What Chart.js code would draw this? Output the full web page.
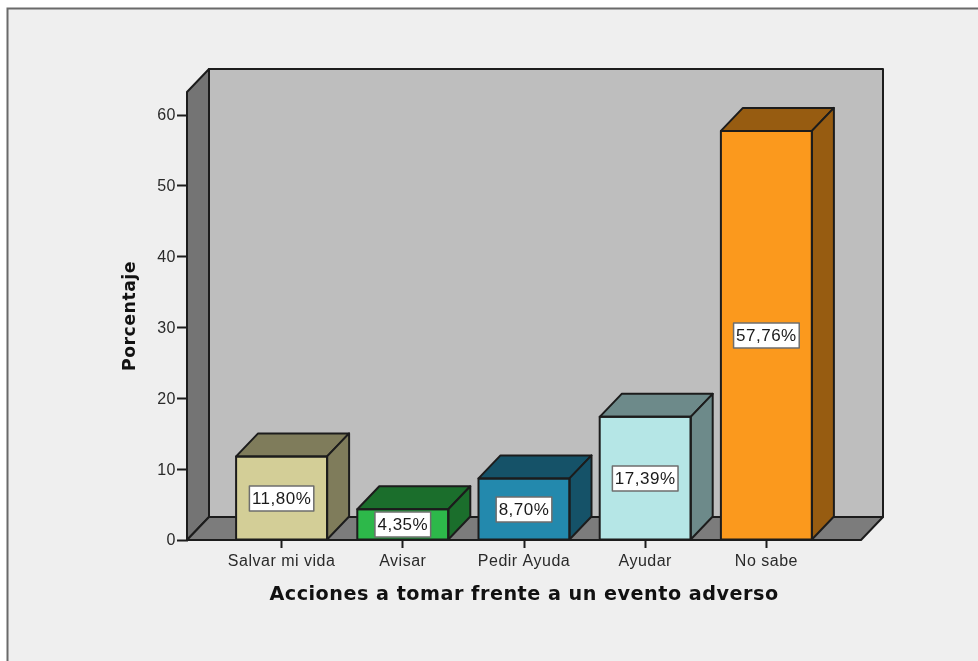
<!DOCTYPE html>
<html><head><meta charset="utf-8">
<style>html,body{margin:0;padding:0;background:#fff}#w{position:relative;width:978px;height:661px}canvas{display:block}</style>
<script src="https://cdn.jsdelivr.net/npm/chart.js@4"></script></head>
<body><div id="w"><canvas id="c" width="978" height="661"></canvas></div>
<script>
const categories = ["Salvar mi vida","Avisar","Pedir Ayuda","Ayudar","No sabe"];
const values = [11.80,4.35,8.70,17.39,57.76];
const valueLabels = ["11,80%","4,35%","8,70%","17,39%","57,76%"];
const faceColors = ["#d3ce97","#2db84a","#2389ad","#b5e6e6","#fb991d"];
const sideColors = ["#7f7c5b","#1b6e2c","#155268","#6d8a8a","#975c11"];
const yTicks = [0,10,20,30,40,50,60];
const xTitle = "Acciones a tomar frente a un evento adverso";
const yTitle = "Porcentaje";
const DX = 22, DY = 23, FLOOR_L = 34, FLOOR_R = 34;
const INK = "#1c1c1c";
const canvas = document.getElementById("c");

const scene = {
  id:"scene",
  beforeDraw(ch){
    const c=ch.ctx; c.save();
    c.fillStyle="#fff"; c.fillRect(0,0,978,661);
    c.fillStyle="#efefef"; c.fillRect(7,8,971,653);
    c.strokeStyle="#6a6a6a"; c.lineWidth=2;
    c.beginPath(); c.moveTo(7.5,661); c.lineTo(7.5,8.5); c.lineTo(978,8.5); c.stroke();
    c.restore();
    c.letterSpacing="0.5px";
  },
  beforeDatasetsDraw(ch){
    const c=ch.ctx,a=ch.chartArea;
    const l=a.left-FLOOR_L,r=a.right+FLOOR_R,t=a.top,b=a.bottom;
    c.save(); c.lineWidth=2; c.strokeStyle=INK; c.lineJoin="round";
    const poly=(p,f)=>{c.beginPath();p.forEach((q,i)=>i?c.lineTo(q[0],q[1]):c.moveTo(q[0],q[1]));c.closePath();c.fillStyle=f;c.fill();c.stroke();};
    c.fillStyle="#efefef"; c.fillRect(l+1,b+1,a.left-l+2,3);
    poly([[l+DX,t-DY],[r+DX,t-DY],[r+DX,b-DY],[l+DX,b-DY]],"#bebebe");
    poly([[l,t],[l+DX,t-DY],[l+DX,b-DY],[l,b]],"#747474");
    poly([[l,b],[l+DX,b-DY],[r+DX,b-DY],[r,b]],"#7c7c7c");
    c.restore();
  },
  afterDatasetsDraw(ch){
    const c=ch.ctx,m=ch.getDatasetMeta(0);
    c.save(); c.lineWidth=2; c.strokeStyle=INK; c.lineJoin="round";
    const poly=(p,f)=>{c.beginPath();p.forEach((q,i)=>i?c.lineTo(q[0],q[1]):c.moveTo(q[0],q[1]));c.closePath();c.fillStyle=f;c.fill();c.stroke();};
    m.data.forEach((el,i)=>{
      const w=el.width/2,L=el.x-w,R=el.x+w,T=el.y,B=el.base;
      poly([[L,T],[L+DX,T-DY],[R+DX,T-DY],[R,T]],sideColors[i]);
      poly([[R,T],[R+DX,T-DY],[R+DX,B-DY],[R,B]],sideColors[i]);
      c.strokeRect(L,T,R-L,B-T);
      c.font='17px "Liberation Sans"';
      c.textAlign="center"; c.textBaseline="middle";
      const tw=c.measureText(valueLabels[i]).width+5,h=25,cy=Math.round((T+B)/2)+0.5,cx=el.x;
      c.fillStyle="#fff"; c.fillRect(cx-tw/2,cy-h/2,tw,h);
      c.save(); c.strokeStyle="#6e6e6e"; c.lineWidth=1.5; c.strokeRect(cx-tw/2,cy-h/2,tw,h); c.restore();
      c.fillStyle="#1a1a1a"; c.fillText(valueLabels[i],cx,cy+0.5);
    });
    const a=ch.chartArea;
    c.beginPath(); c.moveTo(a.left-FLOOR_L,a.bottom); c.lineTo(a.right+FLOOR_R,a.bottom); c.stroke();
    c.restore();
  }
};

new Chart(canvas,{
  type:"bar",
  data:{labels:categories,datasets:[{data:values,backgroundColor:faceColors,borderWidth:0,barThickness:91}]},
  plugins:[scene],
  options:{
    responsive:false,animation:false,
    layout:{padding:{left:0,right:151,top:92,bottom:0}},
    plugins:{legend:{display:false},tooltip:{enabled:false}},
    scales:{
      x:{type:"category",offset:true,
        afterFit(s){s.height=121;},
        grid:{display:true,drawOnChartArea:false,tickLength:8,tickWidth:2,tickColor:INK,offset:false,drawTicks:true},
        border:{display:false},
        ticks:{color:"#2a2a2a",font:{family:'"Liberation Sans"',size:16},padding:4,maxRotation:0,autoSkip:false},
        title:{display:true,text:xTitle,color:"#111",font:{family:'"DejaVu Sans"',size:19.2,weight:"bold"},padding:{top:0,bottom:54}}},
      y:{min:0,max:63.25,
        afterFit(s){s.width=221;},
        afterBuildTicks(s){s.ticks=yTicks.map(v=>({value:v}));},
        grid:{drawOnChartArea:false,tickLength:44,tickWidth:2,tickColor:INK},
        border:{display:false},
        ticks:{color:"#2a2a2a",font:{family:'"Liberation Sans"',size:16},padding:1,labelOffset:1},
        title:{display:true,text:yTitle,color:"#111",font:{family:'"DejaVu Sans"',size:17.3,weight:"bold"},padding:{top:120,bottom:0}}}
    }
  }
});
</script></body></html>
